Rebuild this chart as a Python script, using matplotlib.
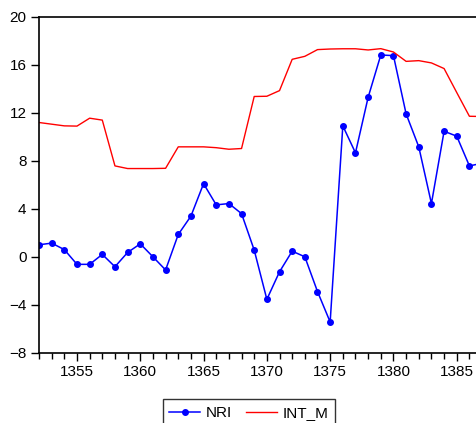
import matplotlib
matplotlib.use("Agg")
import matplotlib.pyplot as plt
import numpy as np

plt.rcParams['font.family'] = ['Liberation Sans', 'DejaVu Sans']

years = np.arange(1352, 1388)
nri = [1.0, 1.14, 0.6, -0.63, -0.63, 0.2, -0.83, 0.36, 1.08, 0.0,
       -1.1, 1.86, 3.39, 6.1, 4.33, 4.44, 3.6, 0.56, -3.55, -1.25,
       0.47, 0.0, -2.9, -5.44, 10.92, 8.67, 13.3, 16.83, 16.78, 11.92,
       9.17, 4.44, 10.47, 10.06, 7.58, 7.8]
int_m = [11.2, 11.06, 10.92, 10.9, 11.56, 11.4, 7.58, 7.36, 7.36, 7.36,
         7.38, 9.17, 9.17, 9.17, 9.1, 8.97, 9.03, 13.37, 13.39, 13.86,
         16.47, 16.72, 17.28, 17.33, 17.35, 17.35, 17.25, 17.36, 17.08, 16.3,
         16.36, 16.17, 15.7, 13.7, 11.72, 11.7]

fig = plt.figure(figsize=(4.77, 4.23), dpi=100)
ax = fig.add_axes([39 / 477, 1 - 352.7 / 423, 1 - 39 / 477, (352.7 - 17) / 423])

ax.plot(years, nri, color='#0000ff', lw=1.1, marker='o', ms=4, label='NRI')
ax.plot(years, int_m, color='#ff0000', lw=1.0, label='INT_M')

ax.set_xlim(1352, 1386.6)
ax.set_ylim(-8, 20)
ax.set_yticks(np.arange(-8, 21, 4))
ax.set_xticks(np.arange(1355, 1386, 5))
ax.set_xticks(np.arange(1352, 1387), minor=True)
ax.tick_params(axis='both', direction='out', length=6, width=1, labelsize=11, colors='black', pad=3)
ax.tick_params(axis='x', which='minor', direction='out', length=4, width=1)
ax.spines['right'].set_visible(False)
for s in ['left', 'bottom', 'top']:
    ax.spines[s].set_linewidth(1.2)

leg = fig.legend(loc='upper center', bbox_to_anchor=(249 / 477, 1 - 399 / 423), ncol=2,
                 fontsize=11, frameon=True, fancybox=False, edgecolor='black',
                 handlelength=2.0, handletextpad=0.4, columnspacing=0.9,
                 borderpad=0.45, borderaxespad=0)
leg.get_frame().set_linewidth(1.0)

fig.savefig('out.png', dpi=100)
